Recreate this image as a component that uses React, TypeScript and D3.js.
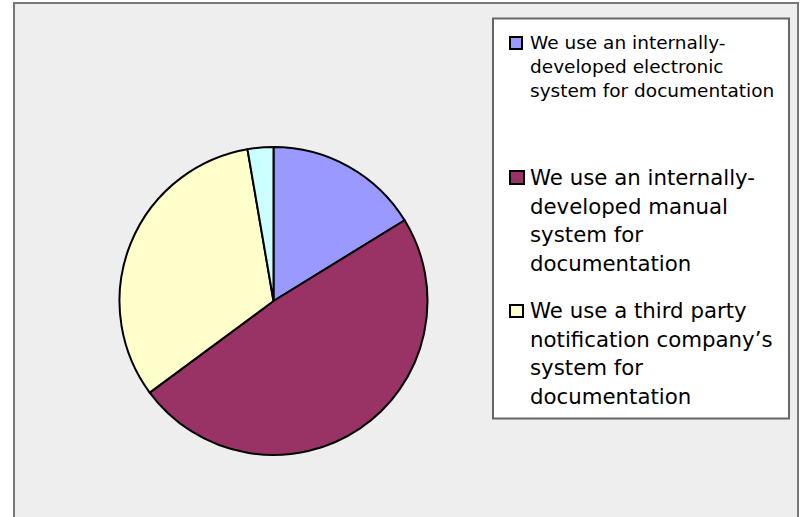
import React from "react";
import * as d3 from "d3";

const categories = [
  "We use an internally-developed electronic system for documentation",
  "We use an internally-developed manual system for documentation",
  "We use a third party notification company’s system for documentation",
  "Other",
];
const values = [6, 18, 12, 1];
const colors = ["#9999ff", "#993366", "#ffffcc", "#ccffff"];
const legendLines = [
  ["We use an internally-", "developed electronic", "system for documentation"],
  ["We use an internally-", "developed manual", "system for", "documentation"],
  ["We use a third party", "notification company’s", "system for", "documentation"],
];

const W = 802;
const H = 517;

export default function App() {
  const cx = 273.5;
  const cy = 301;
  const r = 154;
  const pie = d3.pie<number>().sort(null).value((d) => d)(values);
  const arc = d3.arc<d3.PieArcDatum<number>>().innerRadius(0).outerRadius(r);

  const legendEntries = [
    { size: 18.5, lh: 24, y0: 49, sw: { x: 510, y: 37, w: 12, h: 12 } },
    { size: 21.3, lh: 28.7, y0: 185, sw: { x: 510, y: 171, w: 14, h: 13 } },
    { size: 21.3, lh: 28.5, y0: 318, sw: { x: 510, y: 305, w: 13, h: 12 } },
  ];

  return (
    <svg
      width={W}
      height={H}
      style={{ position: "absolute", left: 0, top: 0, background: "#ffffff" }}
      fontFamily="'DejaVu Sans', Verdana, sans-serif"
    >
      <rect x={14} y={3} width={784} height={620} fill="#eeeeee" stroke="#777777" strokeWidth={2} />
      <g transform={`translate(${cx},${cy})`}>
        {pie.map((p, i) => (
          <path key={i} d={arc(p) || ""} fill={colors[i]} stroke="#000" strokeWidth={2} strokeLinejoin="round" />
        ))}
      </g>
      <rect x={493} y={18.5} width={296} height={400} fill="#ffffff" stroke="#666666" strokeWidth={2} />
      {legendEntries.map((e, i) => (
        <g key={i}>
          <rect x={e.sw.x} y={e.sw.y} width={e.sw.w} height={e.sw.h} fill={colors[i]} stroke="#000" strokeWidth={2} />
          <text fontSize={e.size} fill="#000">
            {legendLines[i].map((ln, j) => (
              <tspan key={j} x={530} y={e.y0 + j * e.lh}>
                {ln}
              </tspan>
            ))}
          </text>
        </g>
      ))}
    </svg>
  );
}
